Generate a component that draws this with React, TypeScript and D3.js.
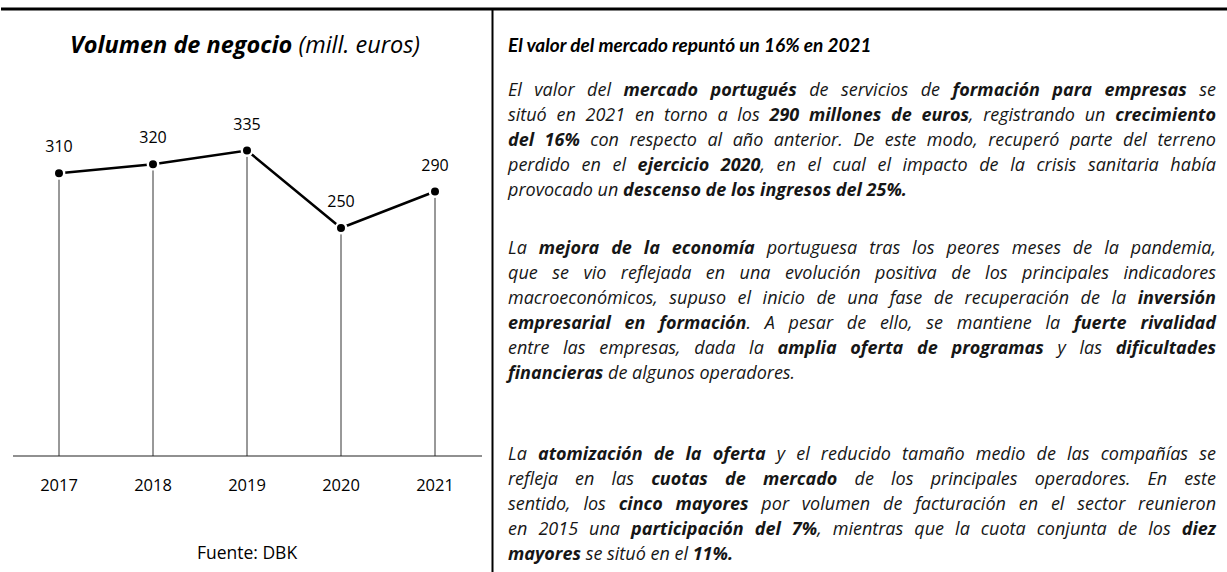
import React, { useEffect, useRef } from "react";
import * as d3 from "d3";

const years = ["2017", "2018", "2019", "2020", "2021"];
const values = [310, 320, 335, 250, 290];

const chartTitleBold = "Volumen de negocio";
const chartTitleItalic = " (mill. euros)";
const sourceText = "Fuente: DBK";
const heading = "El valor del mercado repuntó un 16% en 2021";

type Seg = [string, boolean];
const paragraphs: Seg[][][] = [
  [
    [["El valor del ", false], ["mercado portugués", true], [" de servicios de ", false], ["formación para empresas", true], [" se", false]],
    [["situó en 2021 en torno a los ", false], ["290 millones de euros", true], [", registrando un ", false], ["crecimiento", true]],
    [["del 16%", true], [" con respecto al año anterior. De este modo, recuperó parte del terreno", false]],
    [["perdido en el ", false], ["ejercicio 2020", true], [", en el cual el impacto de la crisis sanitaria había", false]],
    [["provocado un ", false], ["descenso de los ingresos del 25%.", true]],
  ],
  [
    [["La ", false], ["mejora de la economía", true], [" portuguesa tras los peores meses de la pandemia,", false]],
    [["que se vio reflejada en una evolución positiva de los principales indicadores", false]],
    [["macroeconómicos, supuso el inicio de una fase de recuperación de la ", false], ["inversión", true]],
    [["empresarial en formación", true], [". A pesar de ello, se mantiene la ", false], ["fuerte rivalidad", true]],
    [["entre las empresas, dada la ", false], ["amplia oferta de programas", true], [" y las ", false], ["dificultades", true]],
    [["financieras", true], [" de algunos operadores.", false]],
  ],
  [
    [["La ", false], ["atomización de la oferta", true], [" y el reducido tamaño medio de las compañías se", false]],
    [["refleja en las ", false], ["cuotas de mercado", true], [" de los principales operadores. En este", false]],
    [["sentido, los ", false], ["cinco mayores", true], [" por volumen de facturación en el sector reunieron", false]],
    [["en 2015 una ", false], ["participación del 7%", true], [", mientras que la cuota conjunta de los ", false], ["diez", true]],
    [["mayores", true], [" se situó en el ", false], ["11%.", true]],
  ],
];

const W = 1227;
const H = 572;

export default function App() {
  const ref = useRef<SVGSVGElement>(null);

  useEffect(() => {
    const svg = d3.select(ref.current);
    svg.selectAll("*").remove();

    // frame
    svg.append("line").attr("x1", 1).attr("x2", W).attr("y1", 9).attr("y2", 9)
      .attr("stroke", "#000").attr("stroke-width", 3);
    svg.append("line").attr("x1", 492.5).attr("x2", 492.5).attr("y1", 9).attr("y2", H)
      .attr("stroke", "#000").attr("stroke-width", 2);

    // chart
    const chartFont = "'Open Sans', sans-serif";
    const x = d3.scalePoint<string>().domain(years).range([59, 435]);
    const y = d3.scaleLinear().domain([0, 335]).range([456, 150.5]);

    const title = svg.append("text").attr("x", 245).attr("y", 53)
      .attr("text-anchor", "middle").attr("font-family", chartFont)
      .attr("font-size", 23.5).attr("font-style", "italic").attr("fill", "#000");
    title.append("tspan").attr("font-weight", "bold").text(chartTitleBold);
    title.append("tspan").text(chartTitleItalic);

    const g = svg.append("g");
    g.selectAll("line.drop").data(values).enter().append("line")
      .attr("x1", (_, i) => x(years[i])!).attr("x2", (_, i) => x(years[i])!)
      .attr("y1", (d) => y(d)).attr("y2", y(0))
      .attr("stroke", "#333").attr("stroke-width", 1);

    g.append("line").attr("x1", 13).attr("x2", 482).attr("y1", y(0)).attr("y2", y(0))
      .attr("stroke", "#222").attr("stroke-width", 1.2);

    const line = d3.line<number>().x((_, i) => x(years[i])!).y((d) => y(d));
    g.append("path").datum(values).attr("d", line).attr("fill", "none")
      .attr("stroke", "#000").attr("stroke-width", 2.5);

    g.selectAll("circle").data(values).enter().append("circle")
      .attr("cx", (_, i) => x(years[i])!).attr("cy", (d) => y(d)).attr("r", 5.2)
      .attr("fill", "#000").attr("stroke", "#fff").attr("stroke-width", 2.4);

    g.selectAll("text.val").data(values).enter().append("text")
      .attr("x", (_, i) => x(years[i])!).attr("y", (d) => y(d) - 21)
      .attr("text-anchor", "middle").attr("font-family", chartFont)
      .attr("font-size", 16).attr("fill", "#000").text((d) => String(d));

    g.selectAll("text.yr").data(years).enter().append("text")
      .attr("x", (d) => x(d)!).attr("y", 491)
      .attr("text-anchor", "middle").attr("font-family", chartFont)
      .attr("font-size", 16.5).attr("fill", "#000").text((d) => d);

    svg.append("text").attr("x", 247).attr("y", 559).attr("text-anchor", "middle")
      .attr("font-family", chartFont).attr("font-size", 17.5).attr("fill", "#000").text(sourceText);

    // right text
    const headFont = "Lato, sans-serif";
    const bodyFont = "'Open Sans', sans-serif";
    const left = 508;
    const right = 1216;
    svg.append("text").attr("x", left).attr("y", 52).attr("font-family", headFont)
      .attr("font-size", 19).attr("font-weight", "bold").attr("font-style", "italic")
      .attr("fill", "#000").text(heading);

    const lineH = 25;
    const paraStarts = [96, 254, 460];
    paragraphs.forEach((para, pi) => {
      para.forEach((segs, li) => {
        const t = svg.append("text").attr("x", left).attr("y", paraStarts[pi] + li * lineH)
          .attr("font-family", bodyFont).attr("font-size", 18).attr("font-style", "italic")
          .attr("fill", "#161616").attr("xml:space", "preserve").style("white-space", "pre");
        segs.forEach(([s, b]) => {
          t.append("tspan").attr("font-weight", b ? "bold" : "normal").text(s);
        });
        const isLast = li === para.length - 1;
        if (!isLast) {
          const node = t.node() as SVGTextElement;
          const w = node.getComputedTextLength();
          const full = segs.map((s) => s[0]).join("");
          const spaces = (full.match(/ /g) || []).length;
          if (spaces > 0) t.attr("word-spacing", (right - left - w) / spaces);
        }
      });
    });
  }, []);

  return (
    <div style={{ position: "absolute", left: 0, top: 0, width: W, height: H, background: "#fff" }}>
      <svg ref={ref} width={W} height={H} />
    </div>
  );
}
